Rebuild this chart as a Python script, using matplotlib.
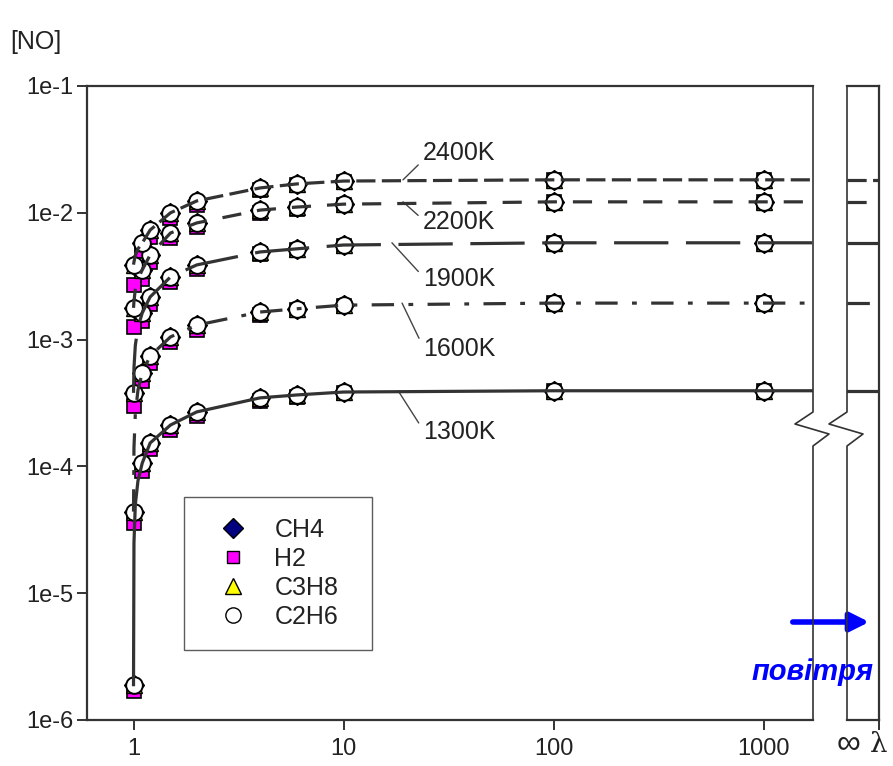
import matplotlib
matplotlib.use("Agg")
import matplotlib.pyplot as plt
from matplotlib.lines import Line2D
from matplotlib.patches import FancyArrowPatch

plt.rcParams['font.family'] = ['Liberation Sans', 'DejaVu Sans']

# ==========================
# DATA
# ==========================

lam = [1, 1.1, 1.2, 1.5, 2, 4, 6, 10, 100, 1000]

temps = ["1300K", "1600K", "1900K", "2200K", "2400K"]

# C2H6 (circles) - CH4 and C3H8 sit under the circles, same readings
no_1300 = [1.9e-6, 1.06e-4, 1.53e-4, 2.12e-4, 2.69e-4, 3.47e-4, 3.66e-4, 3.86e-4, 3.95e-4, 3.95e-4]
no_1600 = [4.4e-5, 5.46e-4, 7.43e-4, 1.05e-3, 1.30e-3, 1.65e-3, 1.75e-3, 1.87e-3, 1.94e-3, 1.94e-3]
no_1900 = [3.8e-4, 1.62e-3, 2.17e-3, 3.12e-3, 3.88e-3, 4.91e-3, 5.2e-3, 5.57e-3, 5.8e-3, 5.8e-3]
no_2200 = [1.78e-3, 3.54e-3, 4.65e-3, 6.93e-3, 8.32e-3, 1.05e-2, 1.11e-2, 1.17e-2, 1.22e-2, 1.22e-2]
no_2400 = [3.9e-3, 5.78e-3, 7.31e-3, 1.0e-2, 1.24e-2, 1.57e-2, 1.69e-2, 1.78e-2, 1.82e-2, 1.82e-2]

# H2 (squares), slightly lower near lambda = 1
h2_1300 = [1.7e-6, 9.2e-5, 1.38e-4, 1.95e-4, 2.5e-4, 3.3e-4, 3.55e-4, 3.8e-4, 3.95e-4, 3.95e-4]
h2_1600 = [3.6e-5, 4.7e-4, 6.5e-4, 9.5e-4, 1.2e-3, 1.57e-3, 1.7e-3, 1.83e-3, 1.94e-3, 1.94e-3]
h2_1900 = [3.0e-4, 1.4e-3, 1.9e-3, 2.85e-3, 3.6e-3, 4.7e-3, 5.05e-3, 5.45e-3, 5.8e-3, 5.8e-3]
h2_2200 = [1.26e-3, 3.0e-3, 4.1e-3, 6.3e-3, 7.7e-3, 1.0e-2, 1.08e-2, 1.15e-2, 1.22e-2, 1.22e-2]
h2_2400 = [2.7e-3, 5.0e-3, 6.5e-3, 9.1e-3, 1.15e-2, 1.5e-2, 1.65e-2, 1.75e-2, 1.82e-2, 1.82e-2]

# curves (incl. the steep part at lambda -> 1)
lam_line = [1, 1.005, 1.02, 1.05, 1.1, 1.2, 1.5, 2, 4, 6, 10, 100, 1000, 1e4]
line_1300 = [1.9e-6, 2.5e-5, 5.0e-5, 7.7e-5, 1.06e-4, 1.53e-4, 2.12e-4, 2.69e-4, 3.47e-4, 3.66e-4, 3.86e-4, 3.95e-4, 3.95e-4, 3.95e-4]
line_1600 = [4.4e-5, 1.4e-4, 2.6e-4, 4.0e-4, 5.46e-4, 7.43e-4, 1.05e-3, 1.30e-3, 1.65e-3, 1.75e-3, 1.87e-3, 1.94e-3, 1.94e-3, 1.94e-3]
line_1900 = [3.8e-4, 6.0e-4, 9.0e-4, 1.25e-3, 1.62e-3, 2.17e-3, 3.12e-3, 3.88e-3, 4.91e-3, 5.2e-3, 5.57e-3, 5.8e-3, 5.8e-3, 5.8e-3]
line_2200 = [1.78e-3, 2.0e-3, 2.5e-3, 3.0e-3, 3.54e-3, 4.65e-3, 6.93e-3, 8.32e-3, 1.05e-2, 1.11e-2, 1.17e-2, 1.22e-2, 1.22e-2, 1.22e-2]
line_2400 = [3.9e-3, 4.1e-3, 4.6e-3, 5.2e-3, 5.78e-3, 7.31e-3, 1.0e-2, 1.24e-2, 1.57e-2, 1.69e-2, 1.78e-2, 1.82e-2, 1.82e-2, 1.82e-2]

# value at lambda = infinity
no_inf = [3.95e-4, 1.94e-3, 5.8e-3, 1.22e-2, 1.82e-2]

fuels = ["CH4", "H2", "C3H8", "C2H6"]

c2h6 = [no_1300, no_1600, no_1900, no_2200, no_2400]
h2 = [h2_1300, h2_1600, h2_1900, h2_2200, h2_2400]
lines = [line_1300, line_1600, line_1900, line_2200, line_2400]

line_col = "#333333"
styles = [
    "-",
    (0, (7, 4.5, 1.5, 4.5)),
    (0, (17, 5.5)),
    (0, (6, 5)),
    (0, (6, 2)),
]

# ==========================
# FIGURE
# ==========================

W, H = 893, 766
fig = plt.figure(figsize=(W / 100, H / 100), dpi=100)


def fx(x):
    return x / W


def fy(y):
    return 1 - y / H


top, bot = 86, 720
left, right = 87, 813
l2, r2 = 847, 879

ax = fig.add_axes([fx(left), fy(bot), fx(right - left), (bot - top) / H])
ax2 = fig.add_axes([fx(l2), fy(bot), fx(r2 - l2), (bot - top) / H])

ax.set_xscale("log")
ax.set_yscale("log")
ax.set_xlim(0.6005, 1720)
ax.set_ylim(1e-6, 1e-1)

ax2.set_yscale("log")
ax2.set_xlim(0, 1)
ax2.set_ylim(1e-6, 1e-1)

# markers
for i in range(5):
    ax.plot(lam, c2h6[i], linestyle="none", marker="D", ms=10.5,
            mfc="#000080", mec="black", mew=1.0, zorder=3)
    ax.plot(lam, h2[i], linestyle="none", marker="s", ms=10,
            mfc="#ff00ff", mec="black", mew=1.2, zorder=4)
    ax.plot(lam, c2h6[i], linestyle="none", marker="^", ms=12,
            mfc="#ffff00", mec="black", mew=1.0, zorder=5)
    ax.plot(lam, c2h6[i], linestyle="none", marker="o", ms=12,
            mfc="white", mec="black", mew=1.4, zorder=6)

# curves
for i in range(5):
    ax.plot(lam_line, lines[i], color=line_col, lw=2.3,
            linestyle=styles[i], zorder=7, clip_on=True)
    ax2.axhline(no_inf[i], color=line_col, lw=2.3, linestyle=styles[i])

# ==========================
# LABELS 2400K ... 1300K
# ==========================

lab_xy = [(18.2, 3.95e-4), (19.0, 1.94e-3), (17.0, 5.8e-3), (19.2, 1.22e-2), (19.2, 1.82e-2)]
lab_txt = [(23.9, 2.32e-4), (23.9, 1.05e-3), (23.9, 3.74e-3), (23.9, 1.05e-2), (23.9, 2.38e-2)]

for i in range(5):
    va = "bottom" if i == 4 else "top"
    rel = (0, 0.2) if i == 4 else (0, 0.6)
    ax.annotate(temps[i], xy=lab_xy[i], xytext=lab_txt[i], fontsize=18,
                ha="left", va=va, color="#222222",
                arrowprops=dict(arrowstyle="-", color="#444444", lw=1.0,
                                relpos=rel, shrinkA=2, shrinkB=0))

# ==========================
# AXES STYLE
# ==========================

for a in (ax, ax2):
    for s in a.spines.values():
        s.set_color("#333333")
        s.set_linewidth(1.6)
    a.minorticks_off()

ax.spines["right"].set_visible(False)
ax2.spines["left"].set_visible(False)

ax.set_yticks([1e-1, 1e-2, 1e-3, 1e-4, 1e-5, 1e-6])
ax.set_yticklabels(["1e-1", "1e-2", "1e-3", "1e-4", "1e-5", "1e-6"])
ax.set_xticks([1, 10, 100, 1000])
ax.set_xticklabels(["1", "10", "100", "1000"])
ax.tick_params(axis="both", direction="out", length=7, width=1.4,
               color="#333333", labelsize=17, labelcolor="#222222", pad=3)
ax.tick_params(axis="x", pad=6)

ax2.set_yticks([])
ax2.set_xticks([1])
ax2.set_xticklabels([""])
ax2.tick_params(axis="x", direction="out", length=7, width=1.4, color="#333333")

fig.text(fx(848), fy(745), "\u221e", fontsize=24, ha="center", va="center", color="#222222")
fig.text(fx(879), fy(745), "\u03bb", fontsize=20, ha="center", va="center", color="#222222",
         family=["DejaVu Serif"])

fig.text(fx(10), fy(42), "[NO]", fontsize=18, ha="left", va="center", color="#222222")

# broken spines with zigzag
for S in (right, l2):
    xs = [S, S, S - 18, S + 16, S, S]
    ys = [top, 412, 424, 434, 446, bot]
    fig.add_artist(Line2D([fx(v) for v in xs], [fy(v) for v in ys],
                          transform=fig.transFigure, color="#333333", lw=1.2))

# legend
handles = [
    Line2D([], [], linestyle="none", marker="D", ms=10, mfc="#000080", mec="black"),
    Line2D([], [], linestyle="none", marker="s", ms=9, mfc="#ff00ff", mec="black"),
    Line2D([], [], linestyle="none", marker="^", ms=11, mfc="#ffff00", mec="black"),
    Line2D([], [], linestyle="none", marker="o", ms=11, mfc="white", mec="black"),
]
leg = ax.legend(handles, fuels, loc="upper left",
                bbox_to_anchor=(0.134, 0.101, 0.259, 0.251), mode="expand",
                borderaxespad=0, fontsize=18, frameon=True, fancybox=False,
                handlelength=2.2, handletextpad=0.55, labelspacing=0.2,
                borderpad=0.85)
leg.get_frame().set_edgecolor("#333333")
leg.get_frame().set_linewidth(1.0)
for t in leg.get_texts():
    t.set_color("#222222")

# air arrow
arrow = FancyArrowPatch((fx(790), fy(622)), (fx(872), fy(622)),
                        transform=fig.transFigure, arrowstyle="-|>",
                        mutation_scale=28, lw=4, color="#0000ff")
fig.add_artist(arrow)
fig.text(fx(812), fy(672), "повітря", fontsize=21, ha="center", va="center",
         color="#0000ff", fontweight="bold", fontstyle="italic")

fig.savefig("out.png", dpi=100)
